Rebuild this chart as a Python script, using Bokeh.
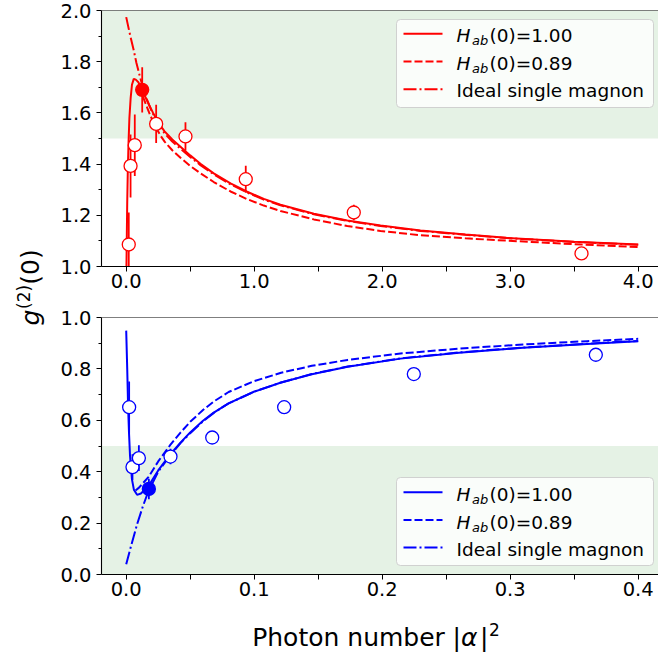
import numpy as np
from bokeh.plotting import figure
from bokeh.layouts import row, column
from bokeh.models import (BoxAnnotation, Span, Label, Arrow, FixedTicker,
                          Range1d, NumeralTickFormatter, ColumnDataSource)
from bokeh.embed import file_html
from bokeh.resources import INLINE

RED = "#ff0000"
BLUE = "#0000ff"
SHADE = "green"

# ---------------- data: top panel ----------------
top_pts_x = [0.020, 0.034, 0.067, 0.125, 0.234, 0.463, 0.934, 1.778, 3.557]
top_pts_y = [1.086, 1.393, 1.474, 1.690, 1.557, 1.508, 1.341, 1.211, 1.051]
top_pts_err = [0.125, 0.123, 0.120, 0.088, 0.075, 0.055, 0.053, 0.030, 0.0]
top_pts_filled = [False, False, False, True, False, False, False, False, False]

top_h100_x = [0.002, 0.005, 0.008, 0.012, 0.018, 0.025, 0.035, 0.045, 0.059, 0.075,
              0.095, 0.125, 0.15, 0.18, 0.21, 0.24, 0.27, 0.30, 0.36, 0.424, 0.50,
              0.58, 0.684, 0.815, 0.945, 1.075, 1.205, 1.466, 1.727, 1.987, 2.299,
              2.65, 2.97, 3.5, 4.0]
top_h100_y = [1.00, 1.13, 1.25, 1.36, 1.48, 1.58, 1.66, 1.71, 1.733, 1.73,
              1.72, 1.69, 1.662, 1.63, 1.60, 1.572, 1.548, 1.528, 1.496, 1.468, 1.434,
              1.401, 1.364, 1.325, 1.292, 1.264, 1.241, 1.206, 1.180, 1.160, 1.141,
              1.125, 1.112, 1.097, 1.086]

top_h089_x = [0.10, 0.125, 0.15, 0.18, 0.21, 0.24, 0.27, 0.30, 0.36, 0.424, 0.50,
              0.58, 0.684, 0.815, 0.945, 1.075, 1.205, 1.466, 1.727, 1.987, 2.299,
              2.65, 2.97, 3.5, 4.0]
top_h089_y = [1.705, 1.672, 1.638, 1.60, 1.566, 1.536, 1.51, 1.488, 1.454, 1.425, 1.393,
              1.364, 1.330, 1.293, 1.263, 1.238, 1.217, 1.184, 1.158, 1.139, 1.122,
              1.110, 1.101, 1.087, 1.076]

top_ideal_x = [0.0, 0.03, 0.059, 0.08, 0.108, 0.13, 0.16, 0.2, 0.25, 0.3, 0.36, 0.424,
               0.50, 0.58, 0.684, 0.815, 0.945, 1.075, 1.205, 1.466, 1.727, 1.987,
               2.299, 2.65, 2.97, 3.5, 4.0]
top_ideal_y = [1.974, 1.905, 1.844, 1.795, 1.74, 1.70, 1.655, 1.605, 1.558, 1.52, 1.488,
               1.46, 1.428, 1.396, 1.36, 1.321, 1.289, 1.261, 1.239, 1.204, 1.178, 1.158,
               1.139, 1.124, 1.111, 1.096, 1.085]

# ---------------- data: bottom panel ----------------
bot_pts_x = [0.0023, 0.0049, 0.0099, 0.0177, 0.0346, 0.0672, 0.1234, 0.2247, 0.3669]
bot_pts_y = [0.651, 0.418, 0.453, 0.333, 0.459, 0.533, 0.651, 0.780, 0.855]
bot_pts_err = [0.10, 0.05, 0.05, 0.04, 0.03, 0.02, 0.0, 0.0, 0.0]
bot_pts_filled = [False, False, False, True, False, False, False, False, False]

bot_h100_x = [0.0, 0.0008, 0.0015, 0.0022, 0.003, 0.0045, 0.006, 0.0085, 0.0115, 0.0145,
              0.0175, 0.025, 0.0346, 0.0424, 0.05, 0.06, 0.0684, 0.08, 0.0997, 0.121,
              0.145, 0.173, 0.2143, 0.26, 0.31, 0.36, 0.40]
bot_h100_y = [0.949, 0.80, 0.65, 0.55, 0.46, 0.37, 0.33, 0.31, 0.315, 0.33,
              0.345, 0.405, 0.468, 0.513, 0.553, 0.598, 0.63, 0.666, 0.711, 0.747,
              0.779, 0.808, 0.84, 0.863, 0.882, 0.897, 0.908]

bot_h089_x = [0.0073, 0.01, 0.0175, 0.025, 0.0346, 0.0424, 0.05, 0.06, 0.0684, 0.08,
              0.0997, 0.121, 0.145, 0.173, 0.2143, 0.26, 0.31, 0.36, 0.40]
bot_h089_y = [0.327, 0.338, 0.38, 0.44, 0.505, 0.552, 0.594, 0.64, 0.673, 0.71,
              0.752, 0.785, 0.812, 0.835, 0.86, 0.879, 0.895, 0.908, 0.917]

bot_ideal_x = [0.0, 0.004, 0.0086, 0.013, 0.0172, 0.025, 0.0346, 0.0424, 0.05, 0.06,
               0.0684, 0.08, 0.0997, 0.121, 0.145, 0.173, 0.2143, 0.26, 0.31, 0.36, 0.40]
bot_ideal_y = [0.04, 0.115, 0.197, 0.265, 0.322, 0.40, 0.465, 0.511, 0.55, 0.596,
               0.629, 0.666, 0.711, 0.747, 0.78, 0.809, 0.841, 0.864, 0.883, 0.898, 0.909]

legend_labels = ["(0)=1.00", "(0)=0.89", "Ideal single magnon"]

top_xticks = [0.0, 1.0, 2.0, 3.0, 4.0]
top_xminor = [0.5, 1.5, 2.5, 3.5]
top_yticks = [1.0, 1.2, 1.4, 1.6, 1.8, 2.0]
top_yminor = [1.1, 1.3, 1.5, 1.7, 1.9]
bot_xticks = [0.0, 0.1, 0.2, 0.3, 0.4]
bot_xminor = [0.05, 0.15, 0.25, 0.35]
bot_yticks = [0.0, 0.2, 0.4, 0.6, 0.8, 1.0]
bot_yminor = [0.1, 0.3, 0.5, 0.7, 0.9]

FONT = "DejaVu Sans"
TICK_FS = "19.5px"
LEG_FS = "18.5px"
SUB_FS = "13px"
LAB_FS = "25px"
SUP_FS = "17px"
DASH = "8 3"
DASHDOT = "13 3 2 3"
BASE = "alphabetic"
BASE_CORR = 0.27   # observed offset of the rendered baseline, in em

# ---------------- layout geometry (page pixels, canvas origin at 0,0) ----------------
TOTAL = 658
LBL_W = 53
FIG_W = TOTAL - LBL_W
TOP_H = 308
BOT_H = 300
XLAB_H = TOTAL - TOP_H - BOT_H
FRAME_L = 101
PX_UNIT_TOP = 128.0
PX_UNIT_BOT = 1280.0
TOP_X0 = -0.193
BOT_X0 = -0.0193
TOP_FRAME = (10, 266)
BOT_FRAME = (317, 574)
frame_w = TOTAL - FRAME_L


def corr(size):
    return BASE_CORR * float(size.replace("px", ""))


def tp(xp, yp):
    return (TOP_X0 + (xp - FRAME_L) / PX_UNIT_TOP,
            1.0 + (TOP_FRAME[1] - yp) / (TOP_FRAME[1] - TOP_FRAME[0]))


def bp(xp, yp):
    return (BOT_X0 + (xp - FRAME_L) / PX_UNIT_BOT,
            (BOT_FRAME[1] - yp) / (BOT_FRAME[1] - BOT_FRAME[0]))


def make_fig(height, xr, yr, bt, bb):
    p = figure(width=FIG_W, height=height, x_range=xr, y_range=yr,
               toolbar_location=None, output_backend="svg",
               min_border_left=FRAME_L - LBL_W, min_border_right=0,
               min_border_top=bt, min_border_bottom=bb)
    p.grid.visible = False
    p.outline_line_color = None
    p.background_fill_color = "white"
    p.border_fill_color = "white"
    for ax in (p.xaxis[0], p.yaxis[0]):
        ax.axis_line_color = "black"
        ax.axis_line_width = 1.1
        ax.major_tick_line_color = "black"
        ax.minor_tick_line_color = "black"
        ax.major_tick_in = 0
        ax.major_tick_out = 5
        ax.minor_tick_in = 0
        ax.major_label_text_font = FONT
        ax.major_label_text_font_size = TICK_FS
        ax.major_label_text_color = "black"
        ax.formatter = NumeralTickFormatter(format="0.0")
    p.xaxis[0].minor_tick_out = 5
    p.yaxis[0].minor_tick_out = 3
    p.xaxis[0].major_label_standoff = 2
    p.yaxis[0].major_label_standoff = 5
    return p


def draw_panel(p, color, px, py, perr, pfilled, cx1, cy1, cx2, cy2, cx3, cy3):
    p.line(cx3, cy3, line_color=color, line_width=2, line_dash=DASHDOT)
    p.line(cx2, cy2, line_color=color, line_width=2, line_dash=DASH)
    p.line(cx1, cy1, line_color=color, line_width=2)
    y0 = [y - e for y, e in zip(py, perr)]
    y1 = [y + e for y, e in zip(py, perr)]
    p.segment(x0=px, y0=y0, x1=px, y1=y1, line_color=color, line_width=1.8)
    src = ColumnDataSource(dict(x=px, y=py,
                                fc=[color if f else "white" for f in pfilled]))
    p.scatter("x", "y", source=src, marker="circle", size=13, fill_color="fc",
              line_color=color, line_width=1.3)


def txt_label(x, y, text, size, style="normal", angle=0.0):
    return Label(x=x, y=y, text=text, text_font=FONT, text_font_size=size,
                 text_font_style=style, text_color="black", text_baseline=BASE,
                 angle=angle)


def legend(p, conv, color, top_y, bot_y, rows_line, rows_base):
    l, t = conv(396, top_y)
    r, b = conv(653, bot_y)
    p.add_layout(BoxAnnotation(left=l, right=r, top=t, bottom=b, fill_color="white",
                               fill_alpha=0.8, line_color="#cccccc", line_alpha=0.9,
                               line_width=1, border_radius=4, level="annotation"))
    dashes = ["solid", DASH, DASHDOT]
    for i in range(3):
        xs, ys = conv(403, rows_line[i])
        xe, _ = conv(442, rows_line[i])
        p.add_layout(Arrow(end=None, x_start=xs, y_start=ys, x_end=xe, y_end=ys,
                           line_color=color, line_width=2, line_dash=dashes[i]))
        base = rows_base[i] - corr(LEG_FS)
        if i < 2:
            hx, hy = conv(456, base)
            p.add_layout(txt_label(hx, hy, "H", LEG_FS, "italic"))
            sx, sy = conv(471.5, rows_base[i] + 3.5 - corr(SUB_FS))
            p.add_layout(txt_label(sx, sy, "ab", SUB_FS, "italic"))
            tx, ty = conv(489, base)
            p.add_layout(txt_label(tx, ty, legend_labels[i], LEG_FS))
        else:
            tx, ty = conv(456, base)
            p.add_layout(txt_label(tx, ty, legend_labels[i], LEG_FS))


# ---------------- top panel ----------------
top = make_fig(TOP_H,
               Range1d(TOP_X0, TOP_X0 + frame_w / PX_UNIT_TOP), Range1d(1.0, 2.0),
               TOP_FRAME[0], TOP_H - TOP_FRAME[1])
top.xaxis[0].ticker = FixedTicker(ticks=top_xticks, minor_ticks=top_xminor)
top.yaxis[0].ticker = FixedTicker(ticks=top_yticks, minor_ticks=top_yminor)
top.add_layout(BoxAnnotation(bottom=1.5, fill_color=SHADE, fill_alpha=0.1,
                             line_color=None, level="underlay"))
top.add_layout(Span(location=2.0, dimension="width", line_color="black", line_width=1.2))
draw_panel(top, RED, top_pts_x, top_pts_y, top_pts_err, top_pts_filled,
           top_h100_x, top_h100_y, top_h089_x, top_h089_y, top_ideal_x, top_ideal_y)
legend(top, tp, RED, 19, 107, [33.3, 61, 88.7], [40, 67.7, 95.4])

# ---------------- bottom panel ----------------
bot = make_fig(BOT_H,
               Range1d(BOT_X0, BOT_X0 + frame_w / PX_UNIT_BOT), Range1d(0.0, 1.0),
               BOT_FRAME[0] - TOP_H, TOP_H + BOT_H - BOT_FRAME[1])
bot.xaxis[0].ticker = FixedTicker(ticks=bot_xticks, minor_ticks=bot_xminor)
bot.yaxis[0].ticker = FixedTicker(ticks=bot_yticks, minor_ticks=bot_yminor)
bot.add_layout(BoxAnnotation(top=0.5, fill_color=SHADE, fill_alpha=0.1,
                             line_color=None, level="underlay"))
bot.add_layout(Span(location=1.0, dimension="width", line_color="black", line_width=1.2))
draw_panel(bot, BLUE, bot_pts_x, bot_pts_y, bot_pts_err, bot_pts_filled,
           bot_h100_x, bot_h100_y, bot_h089_x, bot_h089_y, bot_ideal_x, bot_ideal_y)
legend(bot, bp, BLUE, 477, 565, [491.7, 519.4, 547], [499, 526.7, 554.4])


def bare_fig(w, h, xr, yr, left=0):
    f = figure(width=w, height=h, x_range=xr, y_range=yr,
               toolbar_location=None, output_backend="svg", x_axis_type=None,
               y_axis_type=None, min_border=0, min_border_left=left,
               min_border_right=0, min_border_top=0, min_border_bottom=0)
    f.grid.visible = False
    f.outline_line_color = None
    f.border_fill_color = "white"
    f.background_fill_color = "white"
    return f


# ---------------- x label strip (data coords = page pixels) ----------------
xlab = bare_fig(FIG_W, XLAB_H, Range1d(FRAME_L, TOTAL), Range1d(TOTAL, TOTAL - XLAB_H),
                left=FRAME_L - LBL_W)
for txt, xp, yp, fs, st in [("Photon number ", 251.7, 643.7, LAB_FS, "normal"),
                            ("|", 452, 643.7, LAB_FS, "normal"),
                            ("α", 460.5, 643.7, LAB_FS, "italic"),
                            ("|", 479.5, 643.7, LAB_FS, "normal"),
                            ("2", 488.5, 633.6, SUP_FS, "normal")]:
    xlab.add_layout(txt_label(xp, yp - corr(fs), txt, fs, st))

# ---------------- y label column (data coords = page pixels) ----------------
lab = bare_fig(LBL_W, TOTAL, Range1d(0, LBL_W), Range1d(TOTAL, 0))
for txt, xb, ys, fs, st in [("g", 37, 325, LAB_FS, "italic"),
                            ("(2)", 28, 308.5, SUP_FS, "normal"),
                            ("(0)", 37, 284.2, LAB_FS, "normal")]:
    lab.add_layout(txt_label(xb - corr(fs), ys, txt, fs, st, angle=np.pi / 2))

layout = row(lab, column(top, bot, xlab))
open("out.html", "w").write(file_html(layout, INLINE))
